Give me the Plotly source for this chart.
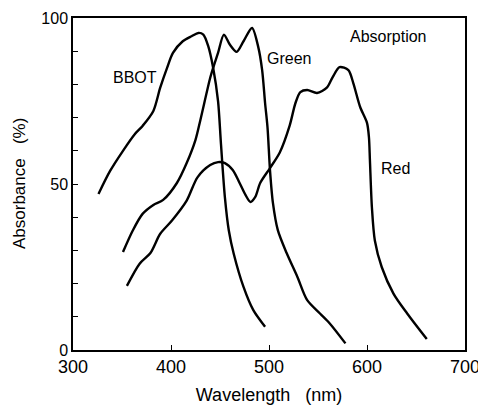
import plotly.graph_objects as go

# Data
bbot_x = [326, 338, 351, 363, 371, 382, 389, 396, 402, 412, 421, 428, 433, 438, 443, 448, 451, 455, 459, 464, 474, 484, 496]
bbot_y = [47, 54, 60, 65, 67.5, 72, 79, 85, 89.5, 93, 94.5, 95.5, 95, 91.5, 85, 75, 62, 46, 36, 29, 19, 12, 7]

green_x = [351, 361, 371, 382, 392, 406, 416, 425, 430, 440, 443, 448, 454, 460, 467, 474, 482.7, 489, 493, 496, 498.5, 501, 504, 509, 518, 529, 539, 552, 562, 578]
green_y = [29.5, 36, 41, 43.7, 45.2, 50.3, 56.3, 63.3, 69.3, 82, 85, 89.5, 95, 92, 89.8, 93, 97, 91.3, 84.3, 74.4, 67, 54.2, 44.3, 36.1, 29.2, 22, 15, 11, 8, 2]

red_x = [355, 368, 379, 389, 401, 416, 427, 440, 448, 455, 463, 470, 476, 481, 486, 491, 501, 511, 521, 527, 532, 539, 549, 559, 565, 572, 581, 586, 593, 600, 602, 603, 605, 608, 615, 627, 641, 661]
red_y = [19.3, 26, 29.2, 35, 39, 45, 52, 55.7, 56.6, 56.3, 54.2, 50.3, 46.7, 44.6, 46.1, 50.3, 54.8, 59.5, 67.5, 74.4, 77.7, 78.3, 77.4, 79, 82.2, 85.2, 84.3, 80.4, 73.2, 68.4, 64, 57, 43, 33, 25, 17, 11, 3.3]

x_tick_vals = [300, 400, 500, 600, 700]
x_tick_text = ["300", "400", "500", "600", "700"]
y_tick_vals = [0, 10, 20, 30, 40, 50, 60, 70, 80, 90, 100]
y_tick_text = ["0", "", "", "", "", "50", "", "", "", "", "100"]

labels = [
    ("BBOT", 363, 82),
    ("Green", 520, 87.7),
    ("Absorption", 622, 94.3),
    ("Red", 628.6, 54.8),
]

FONT = "Liberation Sans, Arial, sans-serif"

fig = go.Figure()
for xs, ys in [(bbot_x, bbot_y), (green_x, green_y), (red_x, red_y)]:
    fig.add_trace(go.Scatter(
        x=xs, y=ys, mode="lines",
        line=dict(color="black", width=2.4, shape="spline", smoothing=0.8),
        showlegend=False, hoverinfo="skip",
    ))

for text, lx, ly in labels:
    fig.add_annotation(x=lx, y=ly, text=text, showarrow=False,
                       font=dict(family=FONT, size=16, color="black"))

# y-axis title placed as a rotated annotation for exact placement
fig.add_annotation(xref="paper", yref="paper", x=0, y=0.5, xanchor="center",
                   yanchor="middle", xshift=-54, textangle=-90, showarrow=False,
                   text="Absorbance\u00a0\u00a0\u00a0(%)",
                   font=dict(family=FONT, size=17, color="black"))

# the page body adds an 8px offset; size the figure to fit the 486x405 window
fig.update_layout(
    width=478, height=397,
    margin=dict(l=65, r=21, t=10, b=55),
    paper_bgcolor="white", plot_bgcolor="white",
    font=dict(family=FONT, color="black"),
    showlegend=False,
)
fig.update_xaxes(
    range=[300, 700], tickvals=x_tick_vals, ticktext=x_tick_text,
    ticks="inside", ticklen=5, tickwidth=1.2, tickcolor="black",
    showline=True, linecolor="black", linewidth=1.5, mirror=True,
    showgrid=False, zeroline=False, automargin=False,
    tickfont=dict(family=FONT, size=18, color="black"),
    title=dict(text="Wavelength\u00a0\u00a0\u00a0(nm)", standoff=12,
               font=dict(family=FONT, size=18, color="black")),
)
fig.update_yaxes(
    range=[0, 100], tickvals=y_tick_vals, ticktext=y_tick_text,
    ticks="inside", ticklen=5, tickwidth=1.2, tickcolor="black",
    showline=True, linecolor="black", linewidth=1.5, mirror=True,
    showgrid=False, zeroline=False, automargin=False,
    tickfont=dict(family=FONT, size=16, color="black"),
)

fig.write_html("out.html")
